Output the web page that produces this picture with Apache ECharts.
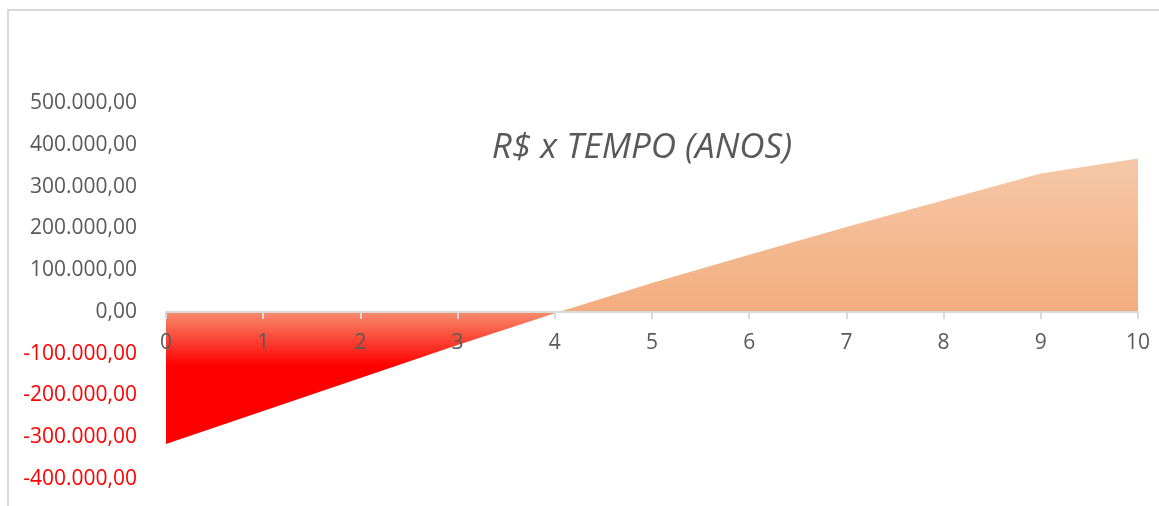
<!DOCTYPE html>
<html>
<head>
<meta charset="utf-8">
<script src="https://cdn.jsdelivr.net/npm/echarts@6/dist/echarts.min.js"></script>
<style>
html,body{margin:0;padding:0;background:#fff;}
#chart{width:1159px;height:506px;}
</style>
</head>
<body>
<div id="chart"></div>
<script>
var titleText = 'R$ x TEMPO (ANOS)';
var years = ['0','1','2','3','4','5','6','7','8','9','10'];
var values = [-316000, -237000, -158000, -79000, -3000, 69000, 137000, 203000, 267000, 331000, 367000];
var yMin = -400000, yMax = 500000, yStep = 100000;

function fmtBR(v) {
  var neg = v < 0;
  var s = Math.abs(Math.round(v)).toString();
  s = s.replace(/\B(?=(\d{3})+(?!\d))/g, '.');
  return (neg ? '-' : '') + s + ',00';
}

var vMax = Math.max.apply(null, values);
var vMin = Math.min.apply(null, values);
var zOff = vMax / (vMax - vMin);
var redOff = Math.min(1, zOff + 0.19);

// layout of the plot area
var H = 506, gTop = 103, gBottom = 27;
var plotH = H - gTop - gBottom;
var zeroY = gTop + plotH * (yMax / (yMax - yMin));

var chart = echarts.init(document.getElementById('chart'), null, {renderer: 'canvas'});
chart.setOption({
  animation: false,
  backgroundColor: '#ffffff',
  graphic: [{
    type: 'rect',
    shape: {x: 8, y: 10, width: 1300, height: 700},
    style: {fill: 'none', stroke: '#d9d9d9', lineWidth: 2},
    silent: true, z: -1
  }],
  title: {
    text: titleText,
    left: 637,
    top: 126,
    textAlign: 'center',
    textStyle: {
      fontFamily: 'Open Sans',
      fontStyle: 'italic',
      fontWeight: 'normal',
      fontSize: 35,
      color: '#595959'
    }
  },
  grid: [
    {left: 166, right: 21, top: gTop, bottom: gBottom, containLabel: false, outerBoundsMode: 'none'},
    {left: 166, right: 21, top: gTop, bottom: H - zeroY, containLabel: false, outerBoundsMode: 'none'}
  ],
  xAxis: [{
    gridIndex: 0,
    type: 'category',
    data: years,
    boundaryGap: false,
    z: 5,
    axisLine: {show: true, onZero: true, lineStyle: {color: '#d9d9d9', width: 2}},
    axisTick: {show: true, inside: false, length: 7, alignWithLabel: true, lineStyle: {color: '#d9d9d9', width: 2}},
    axisLabel: {show: false},
    splitLine: {show: false}
  }, {
    gridIndex: 1,
    type: 'category',
    data: years,
    boundaryGap: false,
    position: 'bottom',
    z: 6,
    axisLine: {show: false},
    axisTick: {show: false},
    axisLabel: {
      color: '#595959',
      fontFamily: 'Open Sans',
      fontSize: 21,
      margin: 21
    },
    splitLine: {show: false}
  }],
  yAxis: [{
    gridIndex: 0,
    type: 'value',
    min: yMin,
    max: yMax,
    interval: yStep,
    axisLine: {show: false},
    axisTick: {show: false},
    splitLine: {show: false},
    axisLabel: {
      margin: 29,
      fontFamily: 'Open Sans',
      fontSize: 21,
      formatter: function (v) { return fmtBR(v); },
      color: function (v) { return Number(v) < 0 ? '#ff0000' : '#595959'; }
    }
  }, {
    gridIndex: 1,
    type: 'value',
    min: 0,
    max: yMax,
    show: false
  }],
  series: [{
    type: 'line',
    xAxisIndex: 0,
    yAxisIndex: 0,
    data: values,
    symbol: 'none',
    lineStyle: {width: 0},
    areaStyle: {
      opacity: 1,
      color: new echarts.graphic.LinearGradient(0, 0, 0, 1, [
        {offset: 0, color: '#f6c8a8'},
        {offset: zOff, color: '#f2ad7e'},
        {offset: zOff + 0.001, color: '#f68c6c'},
        {offset: redOff, color: '#ff0000'},
        {offset: 1, color: '#ff0000'}
      ])
    },
    z: 1
  }]
});
</script>
</body>
</html>
